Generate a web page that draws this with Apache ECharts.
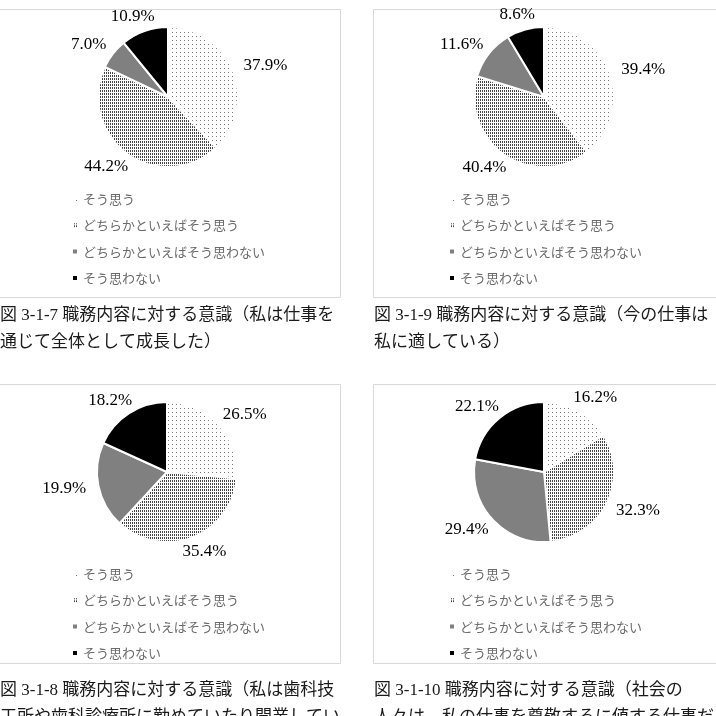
<!DOCTYPE html>
<html>
<head>
<meta charset="utf-8">
<script src="https://cdn.jsdelivr.net/npm/echarts@6/dist/echarts.min.js"></script>
<style>
html,body{margin:0;padding:0;background:#fff;}
#chart{width:716px;height:716px;}
</style>
</head>
<body>
<div id="chart"></div>
<script>
// ---- data ----
const categories = ['そう思う', 'どちらかといえばそう思う', 'どちらかといえばそう思わない', 'そう思わない'];
const values_3_1_7 = [37.9, 44.2, 7.0, 10.9];
const values_3_1_9 = [39.4, 40.4, 11.6, 8.6];
const values_3_1_8 = [26.5, 35.4, 19.9, 18.2];
const values_3_1_10 = [16.2, 32.3, 29.4, 22.1];
const captions = [
  '図 3-1-7 職務内容に対する意識（私は仕事を\n通じて全体として成長した）',
  '図 3-1-9 職務内容に対する意識（今の仕事は\n私に適している）',
  '図 3-1-8 職務内容に対する意識（私は歯科技\n工所や歯科診療所に勤めていたり開業してい',
  '図 3-1-10 職務内容に対する意識（社会の\n人々は、私の仕事を尊敬するに値する仕事だ'
];

// ---- styles ----
const sliceStyles = [
  {color: '#ffffff', decal: {symbol: 'rect', symbolSize: 1, dashArrayX: [1, 3], dashArrayY: [1, 3], color: '#777777'}},
  {color: '#ffffff', decal: {symbol: 'rect', symbolSize: 1, dashArrayX: [1, 1], dashArrayY: [2, 1], color: '#444444'}},
  {color: '#808080'},
  {color: '#000000'}
];

const panels = [
  {values: values_3_1_7, center: [168, 97], legend: {left: 66, top: 187}, caption: {left: 0, top: 302}, box: [-1, 9.5, 341.5, 288]},
  {values: values_3_1_9, center: [544, 97], legend: {left: 443, top: 187}, caption: {left: 374, top: 302}, box: [373.5, 9.5, 400, 288]},
  {values: values_3_1_8, center: [167, 472], legend: {left: 66, top: 562}, caption: {left: 0, top: 677}, box: [-1, 384.5, 341.5, 279]},
  {values: values_3_1_10, center: [544, 472], legend: {left: 443, top: 562}, caption: {left: 374, top: 677}, box: [373.5, 384.5, 400, 279]}
];

function labelLayout(params) {
  const pts = params.labelLinePoints;
  const r = params.labelRect;
  if (!pts || pts.length < 2) return {};
  const dx = pts[1][0] - pts[0][0], dy = pts[1][1] - pts[0][1];
  const len = Math.hypot(dx, dy) || 1;
  const ux = dx / len, uy = dy / len;
  return {
    x: pts[1][0] + ux * (r.width / 2 + 6),
    y: pts[1][1] + uy * r.height / 2,
    align: 'center',
    verticalAlign: 'middle'
  };
}

const series = panels.map(p => ({
  type: 'pie',
  center: p.center,
  radius: 70,
  startAngle: 90,
  clockwise: true,
  silent: true,
  avoidLabelOverlap: false,
  itemStyle: {borderColor: '#ffffff', borderWidth: 2},
  label: {
    show: true,
    position: 'outside',
    formatter: d => d.value.toFixed(1) + '%',
    fontFamily: 'Liberation Serif',
    fontSize: 17,
    color: '#000'
  },
  labelLine: {show: true, length: 7, length2: 0, lineStyle: {color: 'rgba(0,0,0,0)', width: 0}},
  labelLayout: labelLayout,
  emphasis: {disabled: true},
  data: categories.map((c, i) => ({name: c, value: p.values[i], itemStyle: sliceStyles[i]}))
}));

const legends = panels.map(p => ({
  orient: 'vertical',
  left: p.legend.left,
  top: p.legend.top,
  itemWidth: 6,
  itemHeight: 6,
  itemGap: 12.3,
  icon: 'rect',
  selectedMode: false,
  data: categories,
  textStyle: {fontFamily: 'Noto Sans CJK JP', fontSize: 13, color: '#6b6b6b', lineHeight: 14}
}));

const titles = panels.map((p, i) => ({
  text: captions[i],
  left: p.caption.left,
  top: p.caption.top,
  padding: 0,
  textStyle: {fontFamily: 'Liberation Serif, Noto Sans CJK JP', fontSize: 17, fontWeight: 'normal', color: '#1a1a1a', lineHeight: 27}
}));

const graphics = panels.map(p => ({
  type: 'rect',
  silent: true,
  z: -1,
  shape: {x: p.box[0], y: p.box[1], width: p.box[2], height: p.box[3]},
  style: {fill: 'none', stroke: '#d9d9d9', lineWidth: 1}
}));

const chart = echarts.init(document.getElementById('chart'), null, {renderer: 'canvas'});
chart.setOption({
  animation: false,
  backgroundColor: '#ffffff',
  title: titles,
  legend: legends,
  graphic: graphics,
  series: series
});
</script>
</body>
</html>
